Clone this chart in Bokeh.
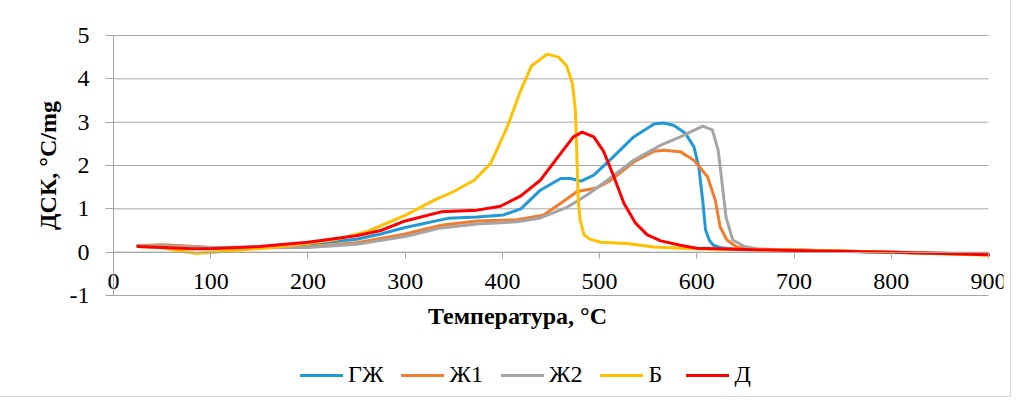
from bokeh.plotting import figure
from bokeh.models import Range1d, FixedTicker, Legend, LegendItem, Label
from bokeh.embed import file_html
from bokeh.resources import INLINE

# ---- data ----
series_names = ["ГЖ", "Ж1", "Ж2", "Б", "Д"]
series_colors = ["#1F9AD6", "#F27D2E", "#A5A5A5", "#FFC000", "#FF0000"]

t_gzh = [25, 50, 75, 100, 150, 200, 250, 275, 300, 344, 374, 401, 419, 439, 460, 470, 481, 494,
         514, 535, 556, 566, 576, 588, 597, 602, 606, 609, 613, 617, 625, 640, 700, 800, 900]
v_gzh = [0.15, 0.14, 0.12, 0.10, 0.12, 0.18, 0.30, 0.42, 0.57, 0.78, 0.81, 0.86, 1.00, 1.43, 1.70,
         1.70, 1.64, 1.78, 2.20, 2.66, 2.96, 2.98, 2.93, 2.75, 2.43, 1.97, 1.20, 0.51, 0.27, 0.16,
         0.10, 0.07, 0.05, 0.00, -0.05]

t_zh1 = [25, 50, 75, 100, 150, 200, 250, 300, 337, 374, 415, 442, 460, 477, 497, 511, 535, 556,
         566, 583, 597, 611, 619, 624, 631, 641, 658, 700, 800, 900]
v_zh1 = [0.15, 0.17, 0.14, 0.11, 0.10, 0.12, 0.22, 0.42, 0.62, 0.72, 0.75, 0.85, 1.13, 1.40, 1.48,
         1.65, 2.08, 2.33, 2.35, 2.32, 2.12, 1.74, 1.20, 0.58, 0.28, 0.12, 0.07, 0.05, 0.00, -0.05]

t_zh2 = [25, 50, 100, 150, 200, 250, 300, 337, 374, 415, 439, 467, 487, 508, 535, 563, 583, 606,
         616, 622, 626, 630, 637, 649, 665, 700, 800, 900]
v_zh2 = [0.15, 0.14, 0.11, 0.10, 0.11, 0.18, 0.36, 0.56, 0.65, 0.70, 0.79, 1.04, 1.32, 1.66, 2.12,
         2.47, 2.66, 2.91, 2.82, 2.35, 1.59, 0.81, 0.28, 0.13, 0.07, 0.05, 0.00, -0.05]

t_b = [25, 50, 70, 85, 100, 130, 160, 200, 230, 260, 300, 330, 350, 371, 388, 405, 419, 430, 446,
       458, 466, 472, 475, 476.5, 478, 480, 484, 490, 501, 528, 556, 583, 620, 650, 700, 800, 900]
v_b = [0.13, 0.10, 0.02, -0.03, -0.01, 0.05, 0.10, 0.20, 0.30, 0.47, 0.85, 1.20, 1.40, 1.66, 2.05,
       2.89, 3.74, 4.30, 4.57, 4.50, 4.30, 3.90, 3.30, 2.30, 1.20, 0.74, 0.40, 0.30, 0.23, 0.20,
       0.12, 0.09, 0.07, 0.06, 0.05, 0.00, -0.07]

t_d = [25, 50, 80, 100, 150, 200, 250, 275, 300, 337, 374, 398, 419, 439, 460, 473, 482, 494, 504,
       514, 525, 537, 549, 563, 583, 600, 650, 700, 800, 900]
v_d = [0.13, 0.11, 0.08, 0.08, 0.13, 0.23, 0.38, 0.50, 0.72, 0.93, 0.97, 1.06, 1.30, 1.66, 2.28,
       2.66, 2.77, 2.66, 2.33, 1.78, 1.13, 0.67, 0.40, 0.26, 0.16, 0.09, 0.06, 0.04, 0.00, -0.06]

x_ticks = [0, 100, 200, 300, 400, 500, 600, 700, 800, 900]
y_ticks = [-1, 0, 1, 2, 3, 4, 5]
x_title = "Температура, °С"
y_title = "ДСК, °С/mg"

FONT = "Liberation Serif, Times New Roman, serif"
GRID = "#A6A6A6"

# layout geometry (pixels): x 0 at 113, x 900 at 988; y 5 at 35, y -1 at 295.
# The frame is widened so that axis texts are never clipped.
PX_X = (988 - 113) / 900.0
PX_Y = (295 - 35) / 6.0
FRAME_L, FRAME_R, FRAME_T, FRAME_B = 30, 1003, 20, 392
X_LOW = -(113 - FRAME_L) / PX_X
X_HIGH = 900 + (FRAME_R - 988) / PX_X
Y_LOW = -1 - (FRAME_B - 295) / PX_Y
Y_HIGH = 5 + (35 - FRAME_T) / PX_Y

p = figure(width=1010, height=396, x_range=Range1d(X_LOW, X_HIGH), y_range=Range1d(Y_LOW, Y_HIGH),
           output_backend="svg", toolbar_location=None,
           min_border_left=FRAME_L, min_border_right=1010 - FRAME_R,
           min_border_top=FRAME_T, min_border_bottom=396 - FRAME_B,
           background_fill_color="white", border_fill_color="white")
p.outline_line_color = None
p.styles = {"outline": "1px solid #D9D9D9"}

# horizontal gridlines spanning the data extent only
p.xgrid.visible = False
p.ygrid.visible = False
p.segment(x0=[x_ticks[0]] * len(y_ticks), y0=y_ticks, x1=[x_ticks[-1]] * len(y_ticks), y1=y_ticks,
          line_color=GRID, line_width=1)

# x axis crossing at y = 0
xa = p.xaxis[0]
xa.fixed_location = 0
xa.bounds = (x_ticks[0], x_ticks[-1])
xa.ticker = FixedTicker(ticks=x_ticks)
xa.axis_line_color = GRID
xa.major_tick_line_color = GRID
xa.major_tick_in = 0
xa.major_tick_out = 6
xa.minor_tick_line_color = None
xa.major_label_text_font = FONT
xa.major_label_text_font_size = "24px"
xa.major_label_text_color = "black"
xa.major_label_standoff = 16

# y axis crossing at x = 0
ya = p.yaxis[0]
ya.fixed_location = 0
ya.ticker = FixedTicker(ticks=y_ticks)
ya.bounds = (y_ticks[0], y_ticks[-1])
ya.axis_line_color = GRID
ya.major_tick_line_color = GRID
ya.major_tick_in = 0
ya.major_tick_out = 8
ya.minor_tick_line_color = None
ya.major_label_text_font = FONT
ya.major_label_text_font_size = "24px"
ya.major_label_text_color = "black"
ya.major_label_standoff = 16
ya.major_label_overrides = {-1: "-1"}
ya.axis_label = y_title
ya.axis_label_text_font = FONT
ya.axis_label_text_font_size = "24px"
ya.axis_label_text_font_style = "bold"
ya.axis_label_text_color = "black"
ya.axis_label_standoff = 6

# lines
all_t = [t_gzh, t_zh1, t_zh2, t_b, t_d]
all_v = [v_gzh, v_zh1, v_zh2, v_b, v_d]
items = []
for name, color, t, v in zip(series_names, series_colors, all_t, all_v):
    r = p.line(t, v, line_color=color, line_width=3, line_join="round", line_cap="round")
    items.append(LegendItem(label=name, renderers=[r]))

xt = Label(x=517 - FRAME_L, y=FRAME_B - 315, x_units="screen", y_units="screen", text=x_title,
           text_font=FONT, text_font_size="24px", text_font_style="bold",
           text_align="center", text_baseline="middle", text_color="black")
p.add_layout(xt)

legend = Legend(items=items, orientation="horizontal", location=(270, 4), nrows=1,
                glyph_width=43, glyph_height=20, label_height=20, label_standoff=5,
                spacing=18, padding=0, margin=0,
                label_text_font=FONT, label_text_font_size="24px", label_text_color="black",
                background_fill_alpha=0, border_line_color=None)
p.add_layout(legend, "center")

open("out.html", "w").write(file_html(p, INLINE))
